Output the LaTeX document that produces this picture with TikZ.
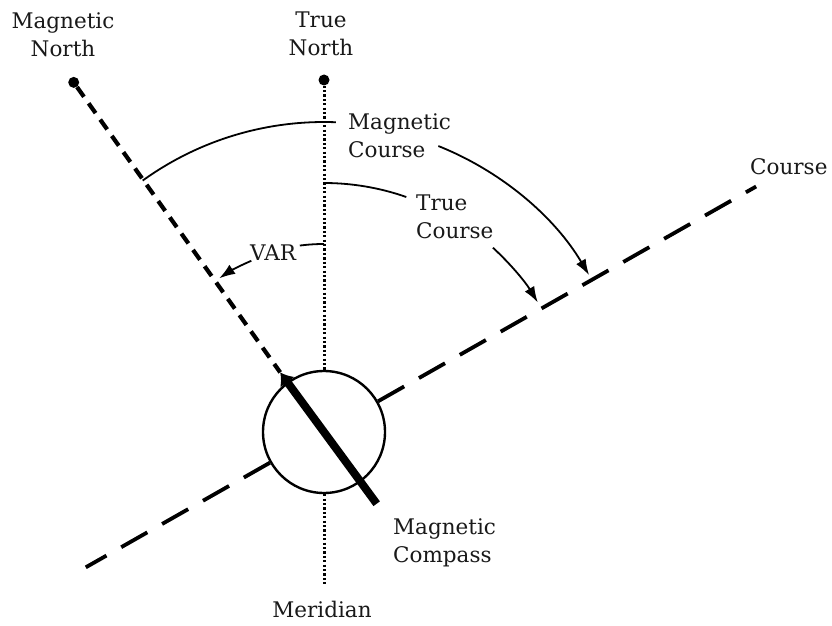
\documentclass[tikz,border=0pt]{standalone}
\usepackage{fontspec}
\setmainfont{DejaVu Serif}
\usetikzlibrary{arrows.meta,calc}
\begin{document}
\begin{tikzpicture}[x=1pt,y=1pt,
  lbl/.style={inner sep=0pt, font=\fontsize{21.5}{28}\selectfont, text=black!90},
  arcline/.style={line width=1.8pt},
  arrowline/.style={line width=1.8pt, -{Latex[length=16pt,width=11pt]}},
  dotnode/.style={circle, fill=black, inner sep=0pt, minimum size=11pt},
  meridianline/.style={line width=3pt, dash pattern=on 2.2pt off 2.2pt},
  courseline/.style={line width=3.8pt, dash pattern=on 30pt off 17pt},
  mnline/.style={line width=4.2pt, dash pattern=on 12pt off 8pt},
  needle/.style={line width=8pt, -{Latex[length=12pt,width=18pt]}}]
\useasboundingbox (0,0) rectangle (832,625);
\fill[white] (0,0) rectangle (832,625);
\coordinate (C) at (324,193);
% points
\node[dotnode] (MN) at ($(C)+(125.6:430)$) {};
\node[dotnode] (TN) at (324,545) {};
\coordinate (MB) at (324,40);
\coordinate (CL) at ($(C)+(209.6:274)$);
\coordinate (CR) at ($(C)+(29.6:497)$);
\coordinate (NT) at ($(C)+(126.3:74)$);
\coordinate (NE) at ($(C)+(-53.7:89)$);
% compass
\node[circle, draw, line width=2.4pt, minimum size=122pt, inner sep=0pt] (compass) at (C) {};
% meridian
\draw[meridianline] (TN) -- (compass);
\draw[meridianline] (compass) -- (MB);
% course line
\draw[courseline] (compass) -- (CL);
\draw[courseline] (compass) -- (CR);
% magnetic north line
\draw[mnline] (MN) -- (NT);
% needle
\draw[needle] (NE) -- (NT);
% arcs
\coordinate (mcA) at ($(C)+(125.8:310)$);
\coordinate (mcB) at ($(C)+(68.2:308)$);
\coordinate (tcA) at ($(C)+(90:249)$);
\coordinate (tcB) at ($(C)+(47.5:250)$);
\coordinate (vaA) at ($(C)+(90:188)$);
\coordinate (vaB) at ($(C)+(113:186)$);
\draw[arcline] (mcA) arc[start angle=125.8, end angle=87.8, radius=310];
\draw[arrowline] (mcB) arc[start angle=68.2, end angle=30.6, radius=308];
\draw[arcline] (tcA) arc[start angle=90, end angle=70.7, radius=249];
\draw[arrowline] (tcB) arc[start angle=47.5, end angle=31.2, radius=250];
\draw[arcline] (vaA) arc[start angle=90, end angle=97.4, radius=188];
\draw[arrowline] (vaB) arc[start angle=113, end angle=124.3, radius=186];
% labels
\node[lbl, align=center, anchor=north] (lMN) at (63,613) {Magnetic\\North};
\node[lbl, align=center, anchor=north] (lTN) at (321,613) {True\\North};
\node[lbl, align=left, anchor=north west] (lMC) at (348,512) {Magnetic\\Course};
\node[lbl, align=left, anchor=north west] (lTC) at (416,430) {True\\Course};
\node[lbl, anchor=north west] (lC) at (750,467) {Course};
\node[lbl, anchor=north west] (lVAR) at (250,380) {VAR};
\node[lbl, align=left, anchor=north west] (lCMP) at (393,107) {Magnetic\\Compass};
\node[lbl, anchor=north] (lMer) at (322,24) {Meridian};
\end{tikzpicture}
\end{document}
